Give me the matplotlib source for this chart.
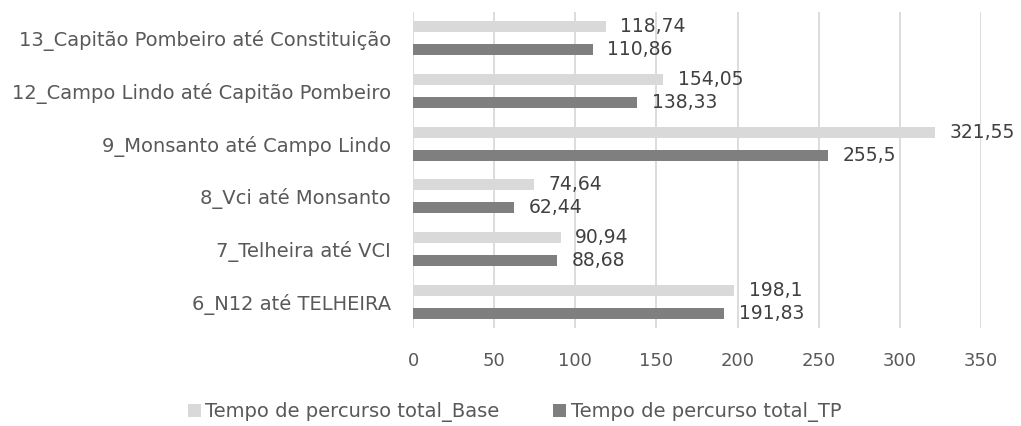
import matplotlib
matplotlib.use("Agg")
import matplotlib.pyplot as plt
import numpy as np

plt.rcParams['font.family'] = ['DejaVu Sans']

categories = ["6_N12 até TELHEIRA", "7_Telheira até VCI", "8_Vci até Monsanto",
              "9_Monsanto até Campo Lindo", "12_Campo Lindo até Capitão Pombeiro",
              "13_Capitão Pombeiro até Constituição"]
base_vals = [198.1, 90.94, 74.64, 321.55, 154.05, 118.74]
tp_vals = [191.83, 88.68, 62.44, 255.5, 138.33, 110.86]
base_labels = ["198,1", "90,94", "74,64", "321,55", "154,05", "118,74"]
tp_labels = ["191,83", "88,68", "62,44", "255,5", "138,33", "110,86"]
xticks = [0, 50, 100, 150, 200, 250, 300, 350]

fig = plt.figure(figsize=(10.21, 4.26), dpi=100)
ax = fig.add_axes([413 / 1021, 1 - 328 / 426, (981 - 413) / 1021, (328 - 12) / 426])

y = np.arange(len(categories))
h = 0.21
off = 0.218
txtc = "#595959"
b1 = ax.barh(y + off, base_vals, height=h, color="#D9D9D9", label="Tempo de percurso total_Base", zorder=3)
b2 = ax.barh(y - off, tp_vals, height=h, color="#7F7F7F", label="Tempo de percurso total_TP", zorder=3)

for yi, v, s in zip(y, base_vals, base_labels):
    ax.annotate(s, (v, yi + off), xytext=(10.5, 0), textcoords="offset points",
                va="center", ha="left", fontsize=13.5, color="#404040")
for yi, v, s in zip(y, tp_vals, tp_labels):
    ax.annotate(s, (v, yi - off), xytext=(10.5, 0), textcoords="offset points",
                va="center", ha="left", fontsize=13.5, color="#404040")

ax.set_xlim(0, 350)
ax.set_ylim(-0.5, len(categories) - 0.5)
ax.set_xticks(xticks)
ax.set_xticklabels([str(t) for t in xticks])
ax.set_yticks(y)
ax.set_yticklabels(categories)
ax.tick_params(axis='x', length=0, pad=17, labelsize=13, labelcolor=txtc)
ax.tick_params(axis='y', length=0, pad=16, labelsize=14, labelcolor=txtc)
ax.grid(axis='x', color="#D9D9D9", linewidth=1.3, zorder=0)
for sp in ax.spines.values():
    sp.set_visible(False)

leg = fig.legend(handles=[b1, b2], loc="center", bbox_to_anchor=(0.504, 0.032), ncol=2,
                 frameon=False, fontsize=14, handlelength=0.67, handleheight=0.67,
                 handletextpad=0.25, columnspacing=2.75, labelcolor=txtc)

fig.savefig("out.png", dpi=100)
